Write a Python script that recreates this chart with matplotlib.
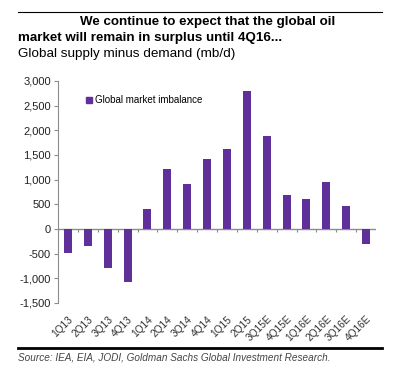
import matplotlib
matplotlib.use("Agg")
import matplotlib.pyplot as plt
from matplotlib.lines import Line2D
import numpy as np

plt.rcParams['font.family'] = ['Liberation Sans', 'DejaVu Sans']

# quarters and imbalance (kb/d)
quarters = ['1Q13', '2Q13', '3Q13', '4Q13', '1Q14', '2Q14', '3Q14', '4Q14',
            '1Q15', '2Q15', '3Q15E', '4Q15E', '1Q16E', '2Q16E', '3Q16E', '4Q16E']
imbalance = [-495, -340, -800, -1080, 405, 1215, 905, 1410,
             1620, 2800, 1890, 695, 605, 955, 470, -300]
yticks = [-1500, -1000, -500, 0, 500, 1000, 1500, 2000, 2500, 3000]

bar_color = '#60309a'
axis_gray = '#8c8c8c'

fig = plt.figure(figsize=(4.03, 3.73), dpi=100)
ax = fig.add_axes([0.144, 0.188, 0.789, 0.595])

x = np.arange(len(quarters))
ax.bar(x, imbalance, width=0.4, color=bar_color, label='Global market imbalance')

ax.set_xlim(-0.5, len(quarters) - 0.5)
ax.set_ylim(-1500, 3000)
ax.set_yticks(yticks)
ax.set_yticklabels(['{:,}'.format(v) for v in yticks], fontsize=8, color='#222222')
ax.tick_params(axis='y', length=3, color=axis_gray, width=0.8, pad=2)

# x labels at bottom, axis line at zero
ax.set_xticks(x)
ax.set_xticklabels(quarters, rotation=45, ha='right', va='top',
                   rotation_mode='anchor', fontsize=7.3, color='#333333')
ax.tick_params(axis='x', length=0, pad=8)
for s in ['top', 'right', 'bottom']:
    ax.spines[s].set_visible(False)
ax.spines['left'].set_color(axis_gray)
ax.spines['left'].set_linewidth(0.8)
ax.axhline(0, color=axis_gray, lw=1.0, zorder=0)
ax.vlines(x[1:] - 0.5, -70, 0, color=axis_gray, lw=0.8)

handle = [Line2D([], [], marker='s', color=bar_color, ls='', markersize=4.5)]
ax.legend(handle, ['Global market imbalance'], loc='upper left',
          bbox_to_anchor=(0.055, 0.975), frameon=False, fontsize=7,
          handletextpad=0.1, handlelength=1.0)

# titles
fig.text(80 / 403, 1 - 25 / 373, 'We continue to expect that the global oil',
         fontsize=9.6, fontweight='bold', va='baseline')
fig.text(18 / 403, 1 - 41 / 373, 'market will remain in surplus until 4Q16...',
         fontsize=9.6, fontweight='bold', va='baseline')
fig.text(18 / 403, 1 - 57 / 373, 'Global supply minus demand (mb/d)',
         fontsize=9.7, va='baseline')
fig.add_artist(Line2D([18 / 403, 382 / 403], [1 - 12 / 373, 1 - 12 / 373],
                      color='black', lw=0.8))
fig.add_artist(Line2D([18 / 403, 382 / 403], [1 - 348 / 373, 1 - 348 / 373],
                      color='black', lw=2))
fig.text(18 / 403, 1 - 361 / 373,
         'Source: IEA, EIA, JODI, Goldman Sachs Global Investment Research.',
         fontsize=7.2, style='italic', color='#444444', va='baseline')

fig.savefig('out.png', dpi=100)
